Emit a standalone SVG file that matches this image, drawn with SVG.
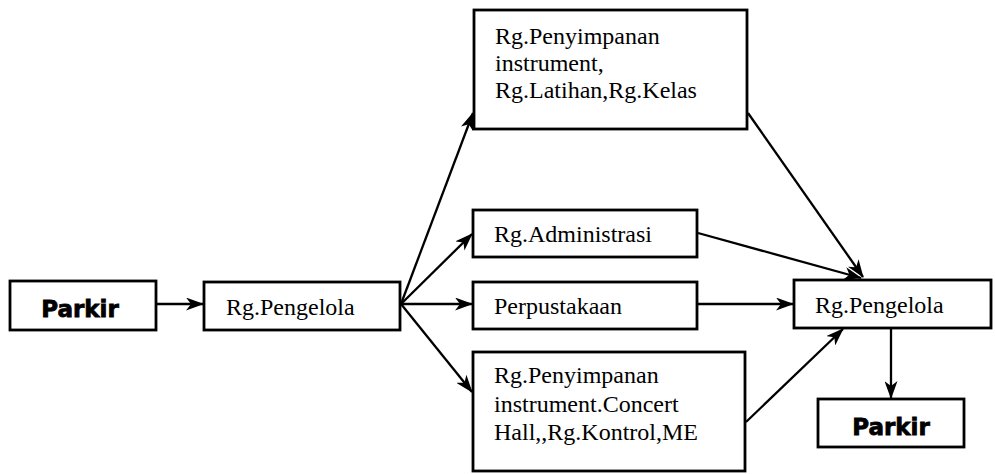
<svg xmlns="http://www.w3.org/2000/svg" width="995" height="474" viewBox="0 0 995 474">
<style>
.box{fill:#fff;stroke:#000;stroke-width:2.8}
.t{font-family:'Liberation Serif','Times New Roman','DejaVu Serif',serif;font-size:24px;fill:#000}
.p{font-family:'DejaVu Sans','Liberation Sans',sans-serif;font-size:23px;font-weight:bold;fill:#000;stroke:#000;stroke-width:0.8}
.c{fill:none;stroke:#000;stroke-width:2.3}
</style>
<defs>
<marker id="ah" viewBox="0 0 18 13" refX="17" refY="6.5" markerWidth="18" markerHeight="13" markerUnits="userSpaceOnUse" orient="auto">
<path d="M0,0 L18,6.5 L0,13 L5,6.5 Z" fill="#000"/>
</marker>
</defs>
<rect width="995" height="474" fill="#fff"/>
<g id="connectors">
<line class="c" x1="156" y1="304" x2="203" y2="304" marker-end="url(#ah)"/>
<line class="c" x1="401" y1="304" x2="473" y2="113" marker-end="url(#ah)"/>
<line class="c" x1="401" y1="304" x2="472" y2="234" marker-end="url(#ah)"/>
<line class="c" x1="401" y1="304" x2="472" y2="304" marker-end="url(#ah)"/>
<line class="c" x1="401" y1="304" x2="472" y2="392" marker-end="url(#ah)"/>
<line class="c" x1="748" y1="113" x2="863" y2="277" marker-end="url(#ah)"/>
<line class="c" x1="698" y1="233" x2="861" y2="278" marker-end="url(#ah)"/>
<line class="c" x1="698" y1="304" x2="793" y2="304" marker-end="url(#ah)"/>
<line class="c" x1="746" y1="422" x2="843" y2="329" marker-end="url(#ah)"/>
<line class="c" x1="891" y1="329" x2="891" y2="398" marker-end="url(#ah)"/>
</g>
<g id="parkir1">
<rect class="box" x="10" y="281" width="146" height="49"/>
<text class="p" x="80" y="317" text-anchor="middle">Parkir</text>
</g>
<g id="pengelola1">
<rect class="box" x="204" y="282" width="196" height="48"/>
<text class="t" x="226" y="315">Rg.Pengelola</text>
</g>
<g id="penyimpanan1">
<rect class="box" x="474" y="10" width="273" height="119"/>
<text class="t" x="495" y="44">Rg.Penyimpanan</text>
<text class="t" x="495" y="71">instrument,</text>
<text class="t" x="495" y="98">Rg.Latihan,Rg.Kelas</text>
</g>
<g id="administrasi">
<rect class="box" x="473" y="210" width="224" height="47"/>
<text class="t" x="494" y="242">Rg.Administrasi</text>
</g>
<g id="perpustakaan">
<rect class="box" x="473" y="282" width="224" height="47"/>
<text class="t" x="494" y="314">Perpustakaan</text>
</g>
<g id="penyimpanan2">
<rect class="box" x="473" y="352" width="272" height="119"/>
<text class="t" x="494" y="383">Rg.Penyimpanan</text>
<text class="t" x="494" y="412">instrument.Concert</text>
<text class="t" x="494" y="440">Hall,,Rg.Kontrol,ME</text>
</g>
<g id="pengelola2">
<rect class="box" x="794" y="280" width="197" height="48"/>
<text class="t" x="815" y="313">Rg.Pengelola</text>
</g>
<g id="parkir2">
<rect class="box" x="818" y="399" width="146" height="48"/>
<text class="p" x="891" y="435" text-anchor="middle">Parkir</text>
</g>
</svg>
